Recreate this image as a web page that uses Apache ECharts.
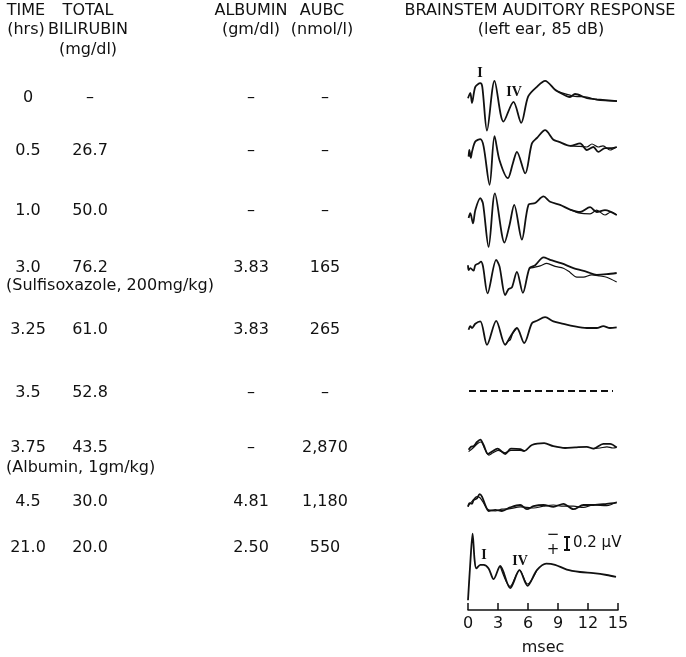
<!DOCTYPE html>
<html>
<head>
<meta charset="utf-8">
<script src="https://cdn.jsdelivr.net/npm/echarts@6/dist/echarts.min.js"></script>
<style>
html, body { margin: 0; background: #fff; }
#main { width: 686px; height: 657px; }
</style>
</head>
<body>
<div id="main"></div>
<script>
// table columns
var times = ['0', '0.5', '1.0', '3.0', '3.25', '3.5', '3.75', '4.5', '21.0'];
var bilirubin = ['–', '26.7', '50.0', '76.2', '61.0', '52.8', '43.5', '30.0', '20.0'];
var albumin = ['–', '–', '–', '3.83', '3.83', '–', '–', '4.81', '2.50'];
var aubc = ['–', '–', '–', '165', '265', '–', '2,870', '1,180', '550'];
var msecTicks = [0, 3, 6, 9, 12, 15];

// waveforms: [msec, microvolt] (negative up)
var w0a = [[0.0,-0.03],[0.23,-0.12],[0.4,0.05],[0.73,-0.22],[1.23,-0.28],[1.43,-0.22],[1.9,0.51],[2.65,-0.32],[3.55,0.36],[4.55,0.03],[5.32,0.38],[6.02,-0.06],[6.89,-0.22],[7.71,-0.32],[8.71,-0.17],[9.01,-0.14],[10.2,-0.05],[10.7,-0.1],[11.9,-0.03],[12.9,-0.01],[14.9,0.02]];
var w0b = [[9.01,-0.14],[10.2,-0.08],[10.7,-0.06],[11.9,-0.05],[12.9,0.0],[14.9,0.02]];
var w05a = [[0.06,0.11],[0.13,0.0],[0.28,0.13],[0.4,0.03],[0.73,-0.14],[1.23,-0.18],[1.56,-0.06],[2.16,0.58],[2.65,-0.23],[3.15,0.17],[3.99,0.47],[4.49,0.22],[4.89,0.03],[5.72,0.39],[6.39,-0.11],[6.89,-0.2],[7.71,-0.33],[8.54,-0.17],[9.04,-0.14],[10.21,-0.07],[11.21,-0.11],[11.88,0.0],[12.54,-0.05],[13.03,0.03],[13.7,-0.03],[14.37,-0.03],[14.87,-0.05]];
var w05b = [[10.21,-0.07],[11.21,-0.06],[11.88,-0.05],[12.4,-0.1],[13.03,-0.05],[13.5,-0.07],[14.2,0.0],[14.87,-0.05]];
var w10a = [[0.06,0.1],[0.23,0.02],[0.5,0.19],[0.73,-0.03],[1.23,-0.23],[1.5,-0.14],[2.06,0.58],[2.69,-0.31],[3.65,0.51],[4.15,0.22],[4.62,-0.12],[5.39,0.46],[6.05,-0.12],[6.72,-0.15],[7.55,-0.26],[8.21,-0.17],[9.21,-0.12],[10.21,-0.04],[11.21,0.0],[12.21,-0.08],[12.87,0.0],[13.7,-0.03],[14.87,0.05]];
var w10b = [[10.21,-0.04],[11.21,0.02],[12.21,0.03],[12.87,-0.03],[13.7,0.05],[14.3,0.0],[14.87,0.05]];
var w30a = [[0.0,-0.08],[0.06,0.0],[0.23,-0.03],[0.56,0.01],[0.73,-0.08],[1.06,-0.11],[1.3,-0.14],[1.5,-0.06],[1.96,0.39],[2.82,-0.17],[3.15,-0.06],[3.72,0.42],[4.05,0.32],[4.39,0.29],[4.89,0.03],[5.49,0.38],[6.15,-0.03],[6.72,-0.08],[7.55,-0.21],[8.21,-0.17],[9.38,-0.11],[10.54,-0.03],[11.88,0.03],[12.87,0.08],[13.87,0.07],[14.87,0.05]];
var w30b = [[6.15,-0.03],[7.22,-0.07],[7.88,-0.11],[8.71,-0.06],[9.54,-0.03],[10.21,0.04],[10.88,0.12],[11.54,0.12],[12.37,0.08],[13.2,0.1],[13.87,0.12],[14.87,0.2]];
var w325a = [[0.06,0.03],[0.23,-0.03],[0.4,0.0],[0.73,-0.07],[1.23,-0.11],[1.9,0.28],[2.82,-0.12],[3.72,0.28],[4.22,0.15],[4.89,0.0],[5.62,0.25],[6.39,-0.08],[6.89,-0.12],[7.71,-0.18],[8.54,-0.11],[9.54,-0.07],[10.54,-0.03],[11.88,0.0],[12.87,0.0],[13.53,-0.03],[14.2,0.0],[14.87,-0.01]];
var w325b = [[3.72,0.28],[4.0,0.22],[4.22,0.2],[4.5,0.08],[4.89,0.0]];
var w35 = [[0.1,0],[14.5,0]];
var w375a = [[0.06,0.03],[0.3,-0.02],[0.56,-0.03],[0.9,-0.1],[1.23,-0.14],[1.56,-0.05],[2.0,0.1],[2.4,0.06],[2.96,0.01],[3.72,0.1],[4.29,0.01],[5.22,0.02],[5.62,0.05],[6.39,-0.05],[7.62,-0.08],[8.54,-0.03],[9.71,0.0],[10.71,-0.01],[11.88,-0.02],[12.54,0.01],[13.53,-0.07],[14.2,-0.07],[14.87,-0.01]];
var w375b = [[0.06,0.06],[0.5,0.0],[1.0,-0.08],[1.3,-0.1],[1.7,0.02],[2.1,0.12],[2.5,0.08],[3.0,0.04],[3.7,0.08],[4.3,0.04],[5.2,0.04],[5.62,0.05]];
var w375c = [[12.54,0.01],[13.2,0.0],[13.9,-0.02],[14.5,0.0],[14.87,-0.01]];
var w45a = [[0.0,0.03],[0.16,-0.03],[0.4,-0.02],[0.56,-0.08],[0.9,-0.11],[1.16,-0.18],[1.4,-0.14],[1.73,0.0],[2.06,0.1],[2.73,0.08],[3.39,0.1],[4.22,0.04],[5.22,0.0],[5.89,0.07],[6.55,0.02],[7.55,0.0],[8.54,0.03],[9.54,-0.02],[10.54,0.07],[11.54,0.0],[12.54,0.0],[13.87,-0.02],[14.87,-0.04]];
var w45b = [[0.0,0.02],[0.4,-0.06],[0.9,-0.14],[1.2,-0.12],[1.5,-0.05],[1.8,0.04],[2.06,0.08],[2.73,0.1],[3.39,0.07],[4.22,0.06],[5.22,0.03],[5.89,0.04],[6.55,0.05],[7.55,0.02],[8.54,0.0],[9.54,0.02],[10.54,0.02],[11.54,0.04],[12.54,0.0],[13.87,0.01],[14.87,-0.05]];
var w21a = [[0.0,0.42],[0.23,-0.2],[0.46,-0.69],[0.66,-0.25],[0.83,-0.11],[1.23,-0.17],[1.56,-0.17],[2.06,-0.11],[2.56,0.07],[3.22,-0.15],[4.22,0.22],[5.15,-0.08],[5.95,0.18],[6.89,-0.08],[7.82,-0.19],[8.71,-0.17],[9.88,-0.09],[11.21,-0.05],[12.54,-0.03],[13.87,0.0],[14.8,0.03]];
var w21b = [[3.22,-0.15],[4.22,0.19],[5.15,-0.08],[5.95,0.15],[6.89,-0.08]];

var waves = [[w0a, w0b], [w05a, w05b], [w10a, w10b], [w30a, w30b], [w325a, w325b], [w35], [w375a, w375b, w375c], [w45a, w45b], [w21a, w21b]];

// layout
var rowCenter = [100, 150, 212, 270, 328, 391, 448, 505, 575];
var textY = [98, 151, 211, 268, 330, 393, 448, 502, 548];
var colX = [28, 90, 251, 325];
var FONT = 'DejaVu Sans';
var FS = 16;

var chart = echarts.init(document.getElementById('main'));

var grids = [], xAxes = [], yAxes = [], series = [];
var firstOfRow = [];
waves.forEach(function (list, i) {
    grids.push({ left: 468, width: 150, top: rowCenter[i] - 60, height: 120 });
    xAxes.push({ gridIndex: i, type: 'value', min: 0, max: 15, show: false });
    yAxes.push({ gridIndex: i, type: 'value', min: -1, max: 1, inverse: true, show: false });
    firstOfRow.push(series.length);
    list.forEach(function (d, k) {
        var dashed = list.length === 1;
        series.push({
            type: 'line', xAxisIndex: i, yAxisIndex: i, data: d,
            symbol: 'none', smooth: dashed ? false : 0.3, silent: true,
            lineStyle: { color: '#111', width: dashed ? 2.2 : (k ? 1.2 : 1.8), type: dashed ? [7, 4] : 'solid' }
        });
    });
});

function textMarks(pts) {
    return {
        symbol: 'circle', symbolSize: 1, silent: true,
        itemStyle: { color: 'rgba(0,0,0,0)' },
        label: { show: true, position: 'inside', color: '#111', fontFamily: FONT, fontSize: 15 },
        data: pts.map(function (p) {
            var lab = { formatter: p[2] };
            if (p[3]) { lab.fontFamily = 'Liberation Serif'; lab.fontWeight = 'bold'; lab.fontSize = 14; }
            if (p[4]) { lab.align = p[4]; }
            return { coord: [p[0], p[1]], value: 0, label: lab };
        })
    };
}
series[firstOfRow[0]].markPoint = textMarks([[1.2, -0.45, 'I', true], [4.6, -0.13, 'IV', true]]);
var r21 = firstOfRow[8];
series[r21].markPoint = textMarks([
    [1.6, -0.33, 'I', true],
    [5.2, -0.23, 'IV', true],
    [8.5, -0.66, '−'],
    [8.5, -0.42, '+'],
    [10.5, -0.53, '0.2 µV', false, 'left']
]);
series[r21].markLine = {
    symbol: 'none', silent: true, label: { show: false },
    lineStyle: { color: '#111', width: 2, type: 'solid' },
    data: [
        [{ coord: [9.9, -0.63] }, { coord: [9.9, -0.42] }],
        [{ coord: [9.6, -0.63] }, { coord: [10.2, -0.63] }],
        [{ coord: [9.6, -0.42] }, { coord: [10.2, -0.42] }]
    ]
};

// msec axis
var ai = waves.length;
grids.push({ left: 468, width: 150, top: 590, height: 30 });
xAxes.push({
    gridIndex: ai, type: 'value', min: 0, max: 15, interval: 3,
    axisLine: { lineStyle: { color: '#111', width: 1.5 } },
    axisTick: { inside: true, length: 7, lineStyle: { color: '#111', width: 1.5 } },
    axisLabel: { color: '#111', fontFamily: FONT, fontSize: FS, margin: 6, customValues: msecTicks },
    splitLine: { show: false },
    name: 'msec', nameLocation: 'middle', nameGap: 30,
    nameTextStyle: { color: '#111', fontFamily: FONT, fontSize: FS }
});
yAxes.push({ gridIndex: ai, type: 'value', show: false });
series.push({ type: 'line', xAxisIndex: ai, yAxisIndex: ai, data: [] });

// table text
var g = [];
function txt(s, x, y, align) {
    g.push({ type: 'text', x: x, y: y, silent: true,
        style: { text: s, fill: '#111', font: FS + 'px "' + FONT + '"', textAlign: align || 'center', textVerticalAlign: 'middle' } });
}
txt('TIME', 26, 11); txt('(hrs)', 26, 30);
txt('TOTAL', 88, 11); txt('BILIRUBIN', 88, 30); txt('(mg/dl)', 88, 50);
txt('ALBUMIN', 251, 11); txt('(gm/dl)', 251, 30);
txt('AUBC', 322, 11); txt('(nmol/l)', 322, 30);
txt('BRAINSTEM AUDITORY RESPONSE', 540, 11); txt('(left ear, 85 dB)', 541, 30);
times.forEach(function (t, i) {
    txt(t, colX[0], textY[i]);
    txt(bilirubin[i], colX[1], textY[i]);
    txt(albumin[i], colX[2], textY[i]);
    txt(aubc[i], colX[3], textY[i]);
});
txt('(Sulfisoxazole, 200mg/kg)', 6, 286, 'left');
txt('(Albumin, 1gm/kg)', 6, 468, 'left');

chart.setOption({
    animation: false,
    backgroundColor: '#fff',
    grid: grids,
    xAxis: xAxes,
    yAxis: yAxes,
    series: series,
    graphic: g
});
</script>
</body>
</html>
